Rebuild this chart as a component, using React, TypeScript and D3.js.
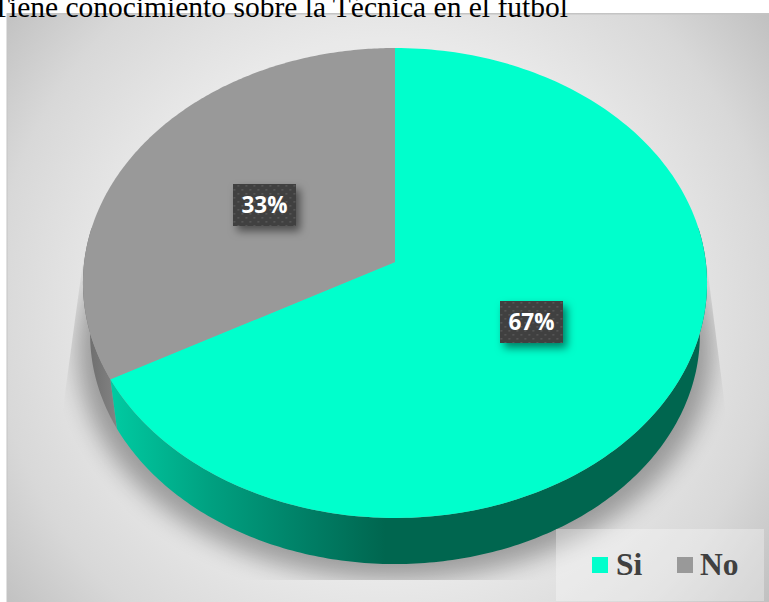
import React, { useMemo } from "react";
import * as d3 from "d3";

const categories = ["Si", "No"];
const values = [67, 33];
const labels = ["67%", "33%"];
const topColors = ["#00ffcc", "#999999"];
const title = "Tiene conocimiento sobre la Técnica en el futbol";

const cx = 395, apexY = 262, persp = 0.0893, bx = 310.8, ay = 233.1;
const depth = 52, shrink = 0.977;

type P = [number, number];
function project(angle: number, r: number, lower: boolean): P {
  const u = Math.sin(angle) * r, v = -Math.cos(angle) * r;
  const d = 1 - persp * v;
  const s = lower ? shrink : 1;
  return [cx + (s * bx * u) / d, apexY + (lower ? depth : 0) + (s * ay * v) / d];
}
const path = (pts: P[]) => d3.line()(pts) + "Z";

export default function App() {
  const arcs = useMemo(() => d3.pie<number>().sort(null)(values), []);
  const steps = (a0: number, a1: number) => d3.range(0, 201).map((i) => a0 + ((a1 - a0) * i) / 200);

  const top = arcs.map((a) => path([[cx, apexY] as P, ...steps(a.startAngle, a.endAngle).map((t) => project(t, 1, false))]));
  const side = arcs.map((a) => {
    const lo = Math.max(a.startAngle, Math.PI / 2 - 0.15);
    const hi = Math.min(a.endAngle, (3 * Math.PI) / 2 + 0.15);
    const ts = steps(lo, hi);
    return path([...ts.map((t) => project(t, 1, false)), ...ts.slice().reverse().map((t) => project(t, 1, true))]);
  });
  const shadow = path(steps(0, 2 * Math.PI).map((t) => {
    const [x, y] = project(t, 1, true);
    return [cx + (x - cx) * 1.04, y + 16] as P;
  }));
  const shadowClip = path([[92, 195], [698, 195], [728, 430], [728, 580], [60, 580], [60, 430]] as P[]);
  const centers = [[531.5, 322], [264.5, 205]] as P[];

  return (
    <svg width={769} height={602} style={{ position: "absolute", left: 0, top: 0, display: "block" }}>
      <defs>
        <radialGradient id="bg" gradientUnits="userSpaceOnUse" cx={385} cy={308} r={490}>
          <stop offset="0" stopColor="#f2f2f2" />
          <stop offset="0.55" stopColor="#e9e9e9" />
          <stop offset="0.8" stopColor="#d8d8d8" />
          <stop offset="1" stopColor="#bfbfbf" />
        </radialGradient>
        <linearGradient id="teal" gradientUnits="userSpaceOnUse" x1={110} x2={400} y1={0} y2={0}>
          <stop offset="0" stopColor="#00cba2" />
          <stop offset="0.35" stopColor="#00a080" />
          <stop offset="0.7" stopColor="#007d64" />
          <stop offset="0.95" stopColor="#00664f" />
          <stop offset="1" stopColor="#00664f" />
        </linearGradient>
        <linearGradient id="greySide" gradientUnits="userSpaceOnUse" x1={83} x2={120} y1={0} y2={0}>
          <stop offset="0" stopColor="#6a6a6a" />
          <stop offset="1" stopColor="#858585" />
        </linearGradient>
        <filter id="blur" x="-20%" y="-20%" width="140%" height="140%"><feGaussianBlur stdDeviation="12" /></filter>
        <filter id="boxShadow" x="-30%" y="-30%" width="170%" height="170%">
          <feDropShadow dx="4" dy="5" stdDeviation="4" floodColor="#000" floodOpacity="0.5" />
        </filter>
        <pattern id="dots" width="8" height="8" patternUnits="userSpaceOnUse" x={1} y={0}>
          <rect width="8" height="8" fill="#404040" />
          <rect x="0" y="0" width="1.6" height="1.6" fill="#5a5a5a" />
          <rect x="4" y="4" width="1.6" height="1.6" fill="#5a5a5a" />
        </pattern>
        <clipPath id="shadowClip"><path d={shadowClip} /></clipPath>
      </defs>

      <rect x={7} y={14} width={762} height={588} fill="url(#bg)" />
      <rect x={7} y={13} width={762} height={1.5} fill="#c4c4c4" />
      <rect x={6.5} y={13} width={1} height={589} fill="#c4c4c4" />
      <text x={-8} y={17} fontFamily="'Liberation Serif', serif" fontSize={29.5} fill="#000">{title}</text>

      <g clipPath="url(#shadowClip)">
        <path d={shadow} fill="#000" opacity={0.33} filter="url(#blur)" />
      </g>

      <path d={side[1]} fill="url(#greySide)" />
      <path d={side[0]} fill="url(#teal)" />
      {top.map((d, i) => <path key={categories[i]} d={d} fill={topColors[i]} />)}

      {labels.map((t, i) => (
        <g key={t} transform={`translate(${centers[i][0]},${centers[i][1]})`}>
          <rect x={-31.5} y={-21} width={63} height={42} fill="url(#dots)" filter="url(#boxShadow)" />
          <text y={8} textAnchor="middle" fontFamily="'Open Sans', sans-serif" fontWeight={700} fontSize={22.5} fill="#fff">{t}</text>
        </g>
      ))}

      <rect x={556} y={529} width={208} height={72} fill="#fff" opacity={0.32} />
      <rect x={592} y={557} width={16} height={16} fill={topColors[0]} />
      <text x={616} y={575} fontFamily="'Liberation Serif', serif" fontWeight={700} fontSize={31.5} fill="#404040">{categories[0]}</text>
      <rect x={677} y={557} width={16} height={16} fill={topColors[1]} />
      <text x={700} y={575} fontFamily="'Liberation Serif', serif" fontWeight={700} fontSize={31.5} fill="#404040">{categories[1]}</text>
    </svg>
  );
}
